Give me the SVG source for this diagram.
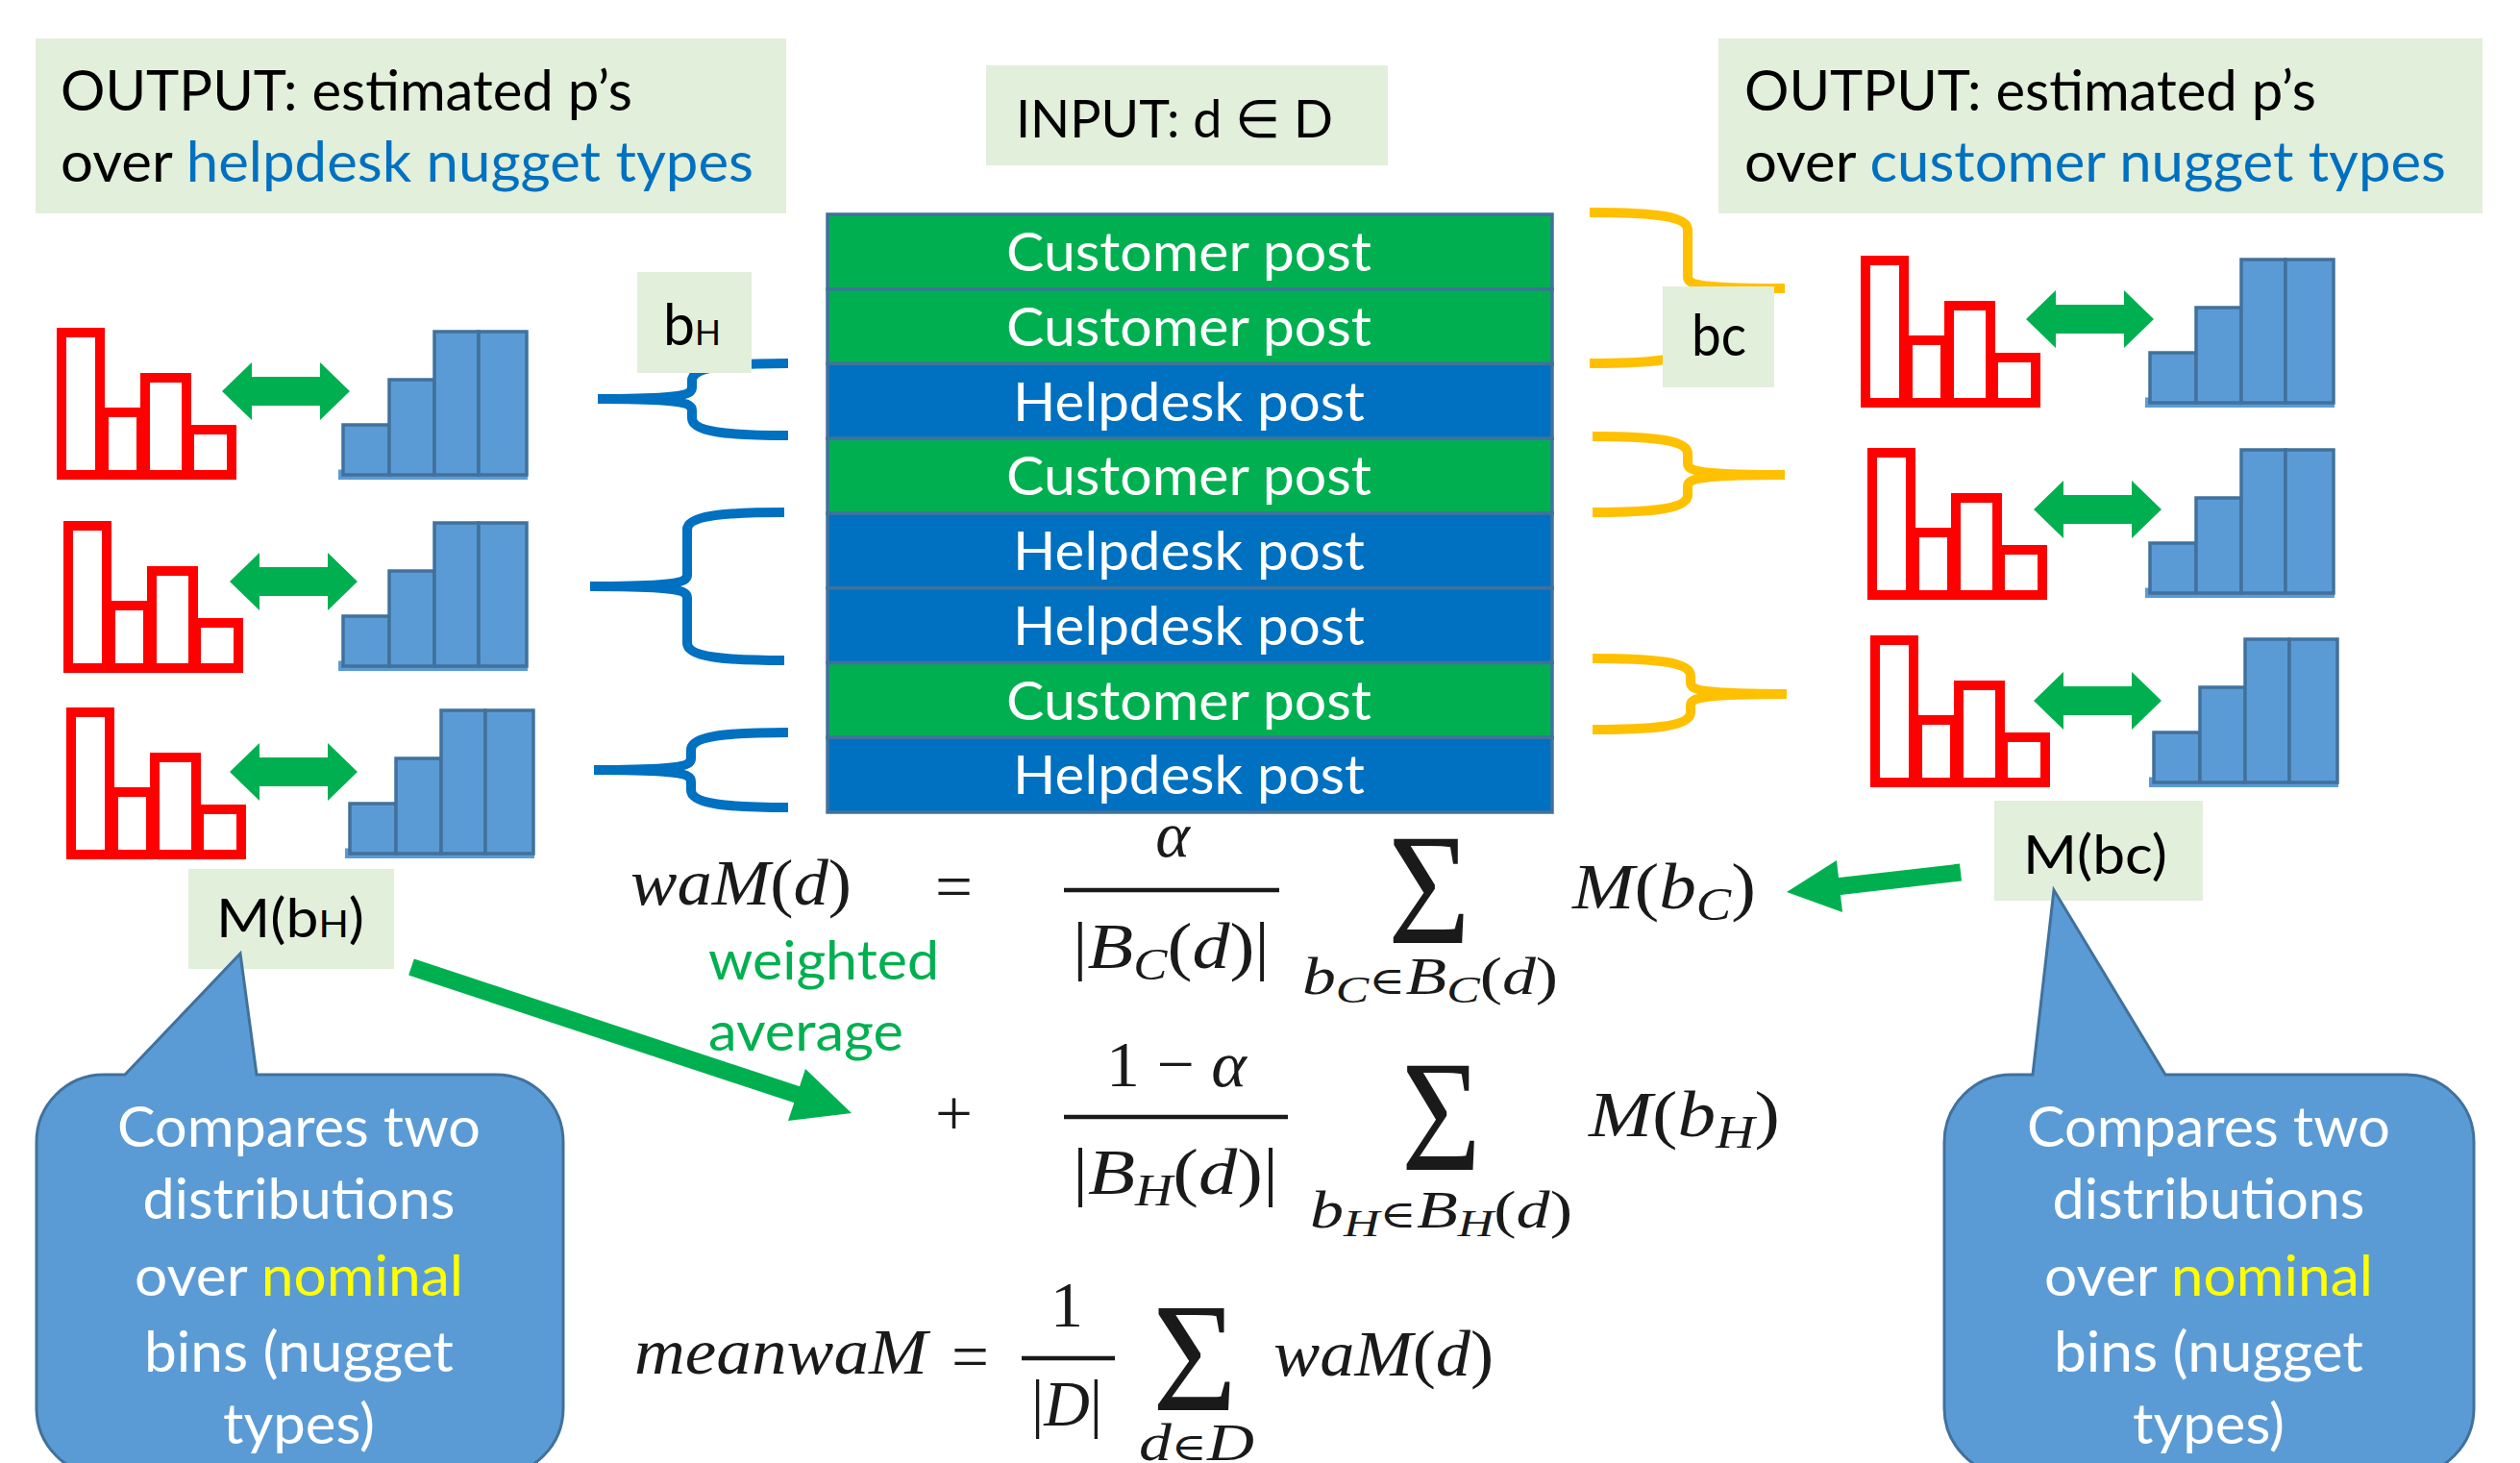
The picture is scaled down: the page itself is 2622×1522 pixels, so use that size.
<svg xmlns="http://www.w3.org/2000/svg" width="2622" height="1522" viewBox="0 0 2622 1522">
<defs>
<style>
.t{font-family:Lato,"Open Sans","DejaVu Sans",sans-serif}
.box{fill:#E2EFDA}
.row{stroke:#41719C;stroke-width:3.5}
.cust{fill:#00B050}
.help{fill:#0070C0}
.rowtxt{fill:#fff;font-size:56px;text-anchor:middle}
.out{font-size:59px;fill:#000}
.m{font-family:"Liberation Serif","DejaVu Serif",serif;fill:#1a1a1a;font-size:68px}
.i{font-style:italic}
.rb{fill:none;stroke:#FF0000;stroke-width:10}
.bb{fill:#5B9BD5;stroke:#41719C;stroke-width:3.5}
.brH{fill:none;stroke:#0070C0;stroke-width:10}
.brC{fill:none;stroke:#FFC000;stroke-width:10}
.callout{fill:#5B9BD5;stroke:#41719C;stroke-width:3}
.ct{fill:#fff;font-size:58px;text-anchor:middle}
.frac{stroke:#1a1a1a;stroke-width:4.5}
.garrow{fill:#00B050}
</style>
<g id="redHist">
<rect class="rb" x="5" y="5" width="40" height="148"/>
<rect class="rb" x="49" y="88" width="39" height="65"/>
<rect class="rb" x="92" y="52" width="43" height="101"/>
<rect class="rb" x="138" y="106" width="44" height="47"/>
</g>
<g id="blueHist">
<rect x="0" y="143.5" width="197" height="10.5" fill="#5B9BD5"/>
<rect class="bb" x="5" y="97" width="48" height="52"/>
<rect class="bb" x="53" y="50" width="47" height="99"/>
<rect class="bb" x="100" y="0" width="46" height="149"/>
<rect class="bb" x="146" y="0" width="50" height="149"/>
</g>
<polygon id="dbl" class="garrow" points="0,30 31,0 31,15 102,15 102,0 133,30 102,60 102,45 31,45 31,60"/>
</defs>
<rect width="2622" height="1522" fill="#fff"/>

<g id="output-helpdesk">
<rect class="box" x="37" y="40" width="781" height="182"/>
<text class="t out" x="63" y="115" textLength="595" lengthAdjust="spacingAndGlyphs">OUTPUT: estimated p’s</text>
<text class="t out" x="63" y="189" textLength="721" lengthAdjust="spacingAndGlyphs">over <tspan fill="#0070C0">helpdesk nugget types</tspan></text>
</g>
<g id="output-customer">
<rect class="box" x="1788" y="40" width="795" height="182"/>
<text class="t out" x="1815" y="115" textLength="595" lengthAdjust="spacingAndGlyphs">OUTPUT: estimated p’s</text>
<text class="t out" x="1815" y="189" textLength="730" lengthAdjust="spacingAndGlyphs">over <tspan fill="#0070C0">customer nugget types</tspan></text>
</g>
<g id="input">
<rect class="box" x="1026" y="68" width="418" height="104"/>
<text class="t" x="1057" y="143" font-size="55" textLength="330" lengthAdjust="spacingAndGlyphs">INPUT: d ∈ D</text>
</g>

<g id="connectors">
<path class="brH" d="M820,378 C755,378 720,382 720,396 L720,403 C720,411 708,415 622,415 M622,415 C708,415 720,419 720,427 L720,435 C720,449 755,453 820,453"/>
<path class="brH" d="M816,533 C750,533 715,537 715,551 L715,598 C715,606 703,610 614,610 M614,610 C703,610 715,614 715,622 L715,669 C715,683 750,687 816,687"/>
<path class="brH" d="M820,762 C754,762 719,766 719,780 L719,789 C719,797 707,801 618,801 M618,801 C707,801 719,805 719,813 L719,822 C719,836 754,840 820,840"/>
<path class="brC" d="M1654,221 C1721,221 1756,225 1756,239 L1756,288 C1756,296 1768,300 1857,300 M1857,300 C1768,300 1756,304 1756,312 L1756,360 C1756,374 1721,378 1654,378"/>
<path class="brC" d="M1657,454 C1721,454 1756,458 1756,472 L1756,482 C1756,490 1768,494 1857,494 M1857,494 C1768,494 1756,498 1756,506 L1756,515 C1756,529 1721,533 1657,533"/>
<path class="brC" d="M1657,685 C1724,685 1759,689 1759,703 L1759,710 C1759,718 1771,722 1859,722 M1859,722 C1771,722 1759,726 1759,734 L1759,741 C1759,755 1724,759 1657,759"/>
<line x1="428" y1="1006" x2="836" y2="1141" stroke="#00B050" stroke-width="18"/>
<polygon class="garrow" points="886,1158 838,1112 820,1166"/>
<line x1="2040" y1="907.5" x2="1910" y2="922.5" stroke="#00B050" stroke-width="18"/>
<polygon class="garrow" points="1859,928 1911,895 1917,949"/>
</g>

<g id="posts">
<g id="post1"><rect class="row cust" x="861" y="223" width="754" height="77.75"/><text class="t rowtxt" x="1237" y="282" textLength="380" lengthAdjust="spacingAndGlyphs">Customer post</text></g>
<g id="post2"><rect class="row cust" x="861" y="300.75" width="754" height="77.75"/><text class="t rowtxt" x="1237" y="359.75" textLength="380" lengthAdjust="spacingAndGlyphs">Customer post</text></g>
<g id="post3"><rect class="row help" x="861" y="378.5" width="754" height="77.75"/><text class="t rowtxt" x="1237" y="437.5" textLength="366" lengthAdjust="spacingAndGlyphs">Helpdesk post</text></g>
<g id="post4"><rect class="row cust" x="861" y="456.25" width="754" height="77.75"/><text class="t rowtxt" x="1237" y="515.25" textLength="380" lengthAdjust="spacingAndGlyphs">Customer post</text></g>
<g id="post5"><rect class="row help" x="861" y="534" width="754" height="77.75"/><text class="t rowtxt" x="1237" y="593" textLength="366" lengthAdjust="spacingAndGlyphs">Helpdesk post</text></g>
<g id="post6"><rect class="row help" x="861" y="611.75" width="754" height="77.75"/><text class="t rowtxt" x="1237" y="670.75" textLength="366" lengthAdjust="spacingAndGlyphs">Helpdesk post</text></g>
<g id="post7"><rect class="row cust" x="861" y="689.5" width="754" height="77.75"/><text class="t rowtxt" x="1237" y="748.5" textLength="380" lengthAdjust="spacingAndGlyphs">Customer post</text></g>
<g id="post8"><rect class="row help" x="861" y="767.25" width="754" height="77.75"/><text class="t rowtxt" x="1237" y="826.25" textLength="366" lengthAdjust="spacingAndGlyphs">Helpdesk post</text></g>
</g>

<g id="hist-left-1"><use href="#redHist" transform="translate(59,341)"/><use href="#dbl" transform="translate(231,377)"/><use href="#blueHist" transform="translate(352,345)"/></g>
<g id="hist-left-2"><use href="#redHist" transform="translate(66,542)"/><use href="#dbl" transform="translate(239,575)"/><use href="#blueHist" transform="translate(352,544)"/></g>
<g id="hist-left-3"><use href="#redHist" transform="translate(69,736)"/><use href="#dbl" transform="translate(239,773)"/><use href="#blueHist" transform="translate(359,739)"/></g>
<g id="hist-right-1"><use href="#redHist" transform="translate(1936,266)"/><use href="#dbl" transform="translate(2108,302)"/><use href="#blueHist" transform="translate(2232,270)"/></g>
<g id="hist-right-2"><use href="#redHist" transform="translate(1943,466)"/><use href="#dbl" transform="translate(2116,500)"/><use href="#blueHist" transform="translate(2232,468)"/></g>
<g id="hist-right-3"><use href="#redHist" transform="translate(1946,661)"/><use href="#dbl" transform="translate(2116,699)"/><use href="#blueHist" transform="translate(2236,665)"/></g>

<g id="label-bH">
<rect class="box" x="663" y="283" width="119" height="105"/>
<text class="t" x="690" y="359" textLength="60" lengthAdjust="spacingAndGlyphs"><tspan font-size="60">b</tspan><tspan font-size="36">H</tspan></text>
</g>
<g id="label-bc">
<rect class="box" x="1730" y="298" width="116" height="105"/>
<text class="t" x="1760" y="370" font-size="60" textLength="57" lengthAdjust="spacingAndGlyphs">bc</text>
</g>
<g id="label-MbH">
<rect class="box" x="196" y="904" width="214" height="104"/>
<text class="t" x="225" y="975" textLength="154" lengthAdjust="spacingAndGlyphs"><tspan font-size="56">M(b</tspan><tspan font-size="38">H</tspan><tspan font-size="56">)</tspan></text>
</g>
<g id="label-Mbc">
<rect class="box" x="2075" y="833" width="217" height="104"/>
<text class="t" x="2105" y="909" font-size="56" textLength="150" lengthAdjust="spacingAndGlyphs">M(bc)</text>
</g>

<g id="weighted-average" class="t" fill="#00B050" font-size="56">
<text x="737" y="1019" textLength="240" lengthAdjust="spacingAndGlyphs">weighted</text>
<text x="737" y="1093" textLength="203" lengthAdjust="spacingAndGlyphs">average</text>
</g>

<g id="formula" class="m">
<text x="656" y="941" textLength="230" lengthAdjust="spacingAndGlyphs"><tspan class="i">waM</tspan>(<tspan class="i">d</tspan>)</text>
<text x="973" y="945" textLength="39" lengthAdjust="spacingAndGlyphs">=</text>
<text x="1220" y="891" text-anchor="middle" class="i">α</text>
<line class="frac" x1="1107" y1="926" x2="1331" y2="926"/>
<text x="1116" y="1007" textLength="205" lengthAdjust="spacingAndGlyphs">|<tspan class="i">B</tspan><tspan class="i" font-size="46" dy="12">C</tspan><tspan dy="-12">(</tspan><tspan class="i">d</tspan>)|</text>
<text x="1444" y="981" font-size="165" textLength="86" lengthAdjust="spacingAndGlyphs">Σ</text>
<text x="1355" y="1034" font-size="54" textLength="266" lengthAdjust="spacingAndGlyphs"><tspan class="i">b</tspan><tspan class="i" font-size="40" dy="9">C</tspan><tspan font-size="40" dy="-9">∈</tspan><tspan class="i">B</tspan><tspan class="i" font-size="40" dy="9">C</tspan><tspan dy="-9">(</tspan><tspan class="i">d</tspan>)</text>
<text x="1636" y="945" textLength="191" lengthAdjust="spacingAndGlyphs"><tspan class="i">M</tspan>(<tspan class="i">b</tspan><tspan class="i" font-size="48" dy="12">C</tspan><tspan dy="-12">)</tspan></text>

<text x="973" y="1181" textLength="39" lengthAdjust="spacingAndGlyphs">+</text>
<text x="1224" y="1130" text-anchor="middle" textLength="146" lengthAdjust="spacingAndGlyphs">1 − <tspan class="i">α</tspan></text>
<line class="frac" x1="1107" y1="1162" x2="1340" y2="1162"/>
<text x="1116" y="1242" textLength="214" lengthAdjust="spacingAndGlyphs">|<tspan class="i">B</tspan><tspan class="i" font-size="46" dy="12">H</tspan><tspan dy="-12">(</tspan><tspan class="i">d</tspan>)|</text>
<text x="1458" y="1217" font-size="165" textLength="83" lengthAdjust="spacingAndGlyphs">Σ</text>
<text x="1363" y="1277" font-size="54" textLength="273" lengthAdjust="spacingAndGlyphs"><tspan class="i">b</tspan><tspan class="i" font-size="40" dy="9">H</tspan><tspan font-size="40" dy="-9">∈</tspan><tspan class="i">B</tspan><tspan class="i" font-size="40" dy="9">H</tspan><tspan dy="-9">(</tspan><tspan class="i">d</tspan>)</text>
<text x="1653" y="1182" textLength="199" lengthAdjust="spacingAndGlyphs"><tspan class="i">M</tspan>(<tspan class="i">b</tspan><tspan class="i" font-size="48" dy="12">H</tspan><tspan dy="-12">)</tspan></text>

<text x="660" y="1429" class="i" textLength="305" lengthAdjust="spacingAndGlyphs">meanwaM</text>
<text x="990" y="1434" textLength="39" lengthAdjust="spacingAndGlyphs">=</text>
<text x="1110" y="1380" text-anchor="middle">1</text>
<line class="frac" x1="1063" y1="1413" x2="1160" y2="1413"/>
<text x="1073" y="1483" textLength="74" lengthAdjust="spacingAndGlyphs">|<tspan class="i">D</tspan>|</text>
<text x="1199" y="1467" font-size="160" textLength="88" lengthAdjust="spacingAndGlyphs">Σ</text>
<text x="1185" y="1519" font-size="54" textLength="120" lengthAdjust="spacingAndGlyphs"><tspan class="i">d</tspan><tspan font-size="40">∈</tspan><tspan class="i">D</tspan></text>
<text x="1325" y="1431" textLength="229" lengthAdjust="spacingAndGlyphs"><tspan class="i">waM</tspan>(<tspan class="i">d</tspan>)</text>
</g>

<g id="callout-left">
<path class="callout" d="M108,1118 L130,1118 L250,992 L267,1118 L516,1118 A70,70 0 0 1 586,1188 L586,1465 A70,70 0 0 1 516,1535 L108,1535 A70,70 0 0 1 38,1465 L38,1188 A70,70 0 0 1 108,1118 Z"/>
<text class="t ct" x="311" y="1193" textLength="378" lengthAdjust="spacingAndGlyphs">Compares two</text>
<text class="t ct" x="311" y="1268" textLength="325" lengthAdjust="spacingAndGlyphs">distributions</text>
<text class="t ct" x="311" y="1348" textLength="342" lengthAdjust="spacingAndGlyphs">over <tspan fill="#FFFF00">nominal</tspan></text>
<text class="t ct" x="311" y="1427" textLength="322" lengthAdjust="spacingAndGlyphs">bins (nugget</text>
<text class="t ct" x="311" y="1502" textLength="158" lengthAdjust="spacingAndGlyphs">types)</text>
</g>
<g id="callout-right">
<path class="callout" d="M2093,1118 L2115,1118 L2137,926 L2253,1118 L2504,1118 A70,70 0 0 1 2574,1188 L2574,1465 A70,70 0 0 1 2504,1535 L2093,1535 A70,70 0 0 1 2023,1465 L2023,1188 A70,70 0 0 1 2093,1118 Z"/>
<text class="t ct" x="2298" y="1193" textLength="378" lengthAdjust="spacingAndGlyphs">Compares two</text>
<text class="t ct" x="2298" y="1268" textLength="325" lengthAdjust="spacingAndGlyphs">distributions</text>
<text class="t ct" x="2298" y="1348" textLength="342" lengthAdjust="spacingAndGlyphs">over <tspan fill="#FFFF00">nominal</tspan></text>
<text class="t ct" x="2298" y="1427" textLength="322" lengthAdjust="spacingAndGlyphs">bins (nugget</text>
<text class="t ct" x="2298" y="1502" textLength="158" lengthAdjust="spacingAndGlyphs">types)</text>
</g>
</svg>
